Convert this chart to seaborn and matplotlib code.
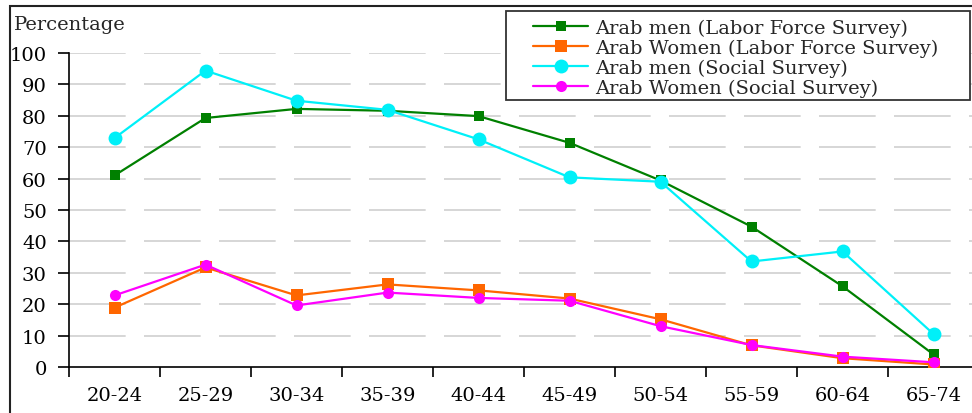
import matplotlib
matplotlib.use("Agg")
import matplotlib.pyplot as plt
import seaborn as sns
import pandas as pd
from matplotlib.patches import Rectangle
from matplotlib.ticker import FixedLocator

age_groups = ["20-24", "25-29", "30-34", "35-39", "40-44", "45-49", "50-54", "55-59", "60-64", "65-74"]
men_lfs = [61.0, 79.3, 82.2, 81.6, 79.9, 71.4, 59.4, 44.7, 25.7, 4.0]
women_lfs = [18.9, 31.7, 22.8, 26.3, 24.4, 21.8, 15.2, 6.9, 2.8, 0.8]
men_social = [72.9, 94.4, 84.8, 81.9, 72.5, 60.4, 59.0, 33.6, 36.8, 10.5]
women_social = [22.8, 32.6, 19.6, 23.7, 22.0, 21.1, 13.0, 7.0, 3.3, 1.5]
series_names = ["Arab men (Labor Force Survey)", "Arab Women (Labor Force Survey)",
                "Arab men (Social Survey)", "Arab Women (Social Survey)"]
y_ticks = [0, 10, 20, 30, 40, 50, 60, 70, 80, 90, 100]

sns.set_theme(style="white")
plt.rcParams["font.family"] = ["DejaVu Serif"]
FS = 14

frames = []
for name, vals in zip(series_names, [men_lfs, women_lfs, men_social, women_social]):
    frames.append(pd.DataFrame({"age": age_groups, "value": vals, "series": name}))
df = pd.concat(frames, ignore_index=True)
df["pos"] = df["age"].map({a: i for i, a in enumerate(age_groups)})

colors = {series_names[0]: "#008000", series_names[1]: "#FF6600",
          series_names[2]: "#00F0F8", series_names[3]: "#FF00FF"}
markers = {series_names[0]: "s", series_names[1]: "s",
           series_names[2]: "o", series_names[3]: "o"}
msizes = {series_names[0]: 6.5, series_names[1]: 8, series_names[2]: 10, series_names[3]: 8}

fig = plt.figure(figsize=(9.72, 4.14), dpi=100)
ax = fig.add_axes([69/972, 46/414, 910/972, 314/414])

for name in series_names:
    sub = df[df["series"] == name]
    sns.lineplot(data=sub, x="pos", y="value", ax=ax, color=colors[name],
                 marker=markers[name], markersize=msizes[name], linewidth=1.6,
                 markeredgewidth=0, label=name, zorder=3)

ax.set_xlim(-0.5, 9.5)
ax.set_ylim(0, 100)
ax.set_xlabel("")
ax.set_ylabel("")
ax.set_yticks(y_ticks)
ax.set_xticks(range(len(age_groups)))
ax.set_xticklabels(age_groups)
ax.xaxis.set_minor_locator(FixedLocator([i - 0.5 for i in range(len(age_groups) + 1)]))
ax.tick_params(axis="x", which="major", length=0, pad=14, labelsize=FS, colors="black")
ax.tick_params(axis="x", which="minor", length=7, width=1.2, direction="out", color="black", bottom=True)
ax.tick_params(axis="y", which="major", length=8, width=1.2, direction="out", pad=8,
               labelsize=FS, colors="black", left=True)

for y in y_ticks[1:]:
    ax.axhline(y, color="#d0d0d0", linewidth=1.2, dashes=(34, 11), zorder=1)

for s in ["top", "right"]:
    ax.spines[s].set_visible(False)
for s in ["left", "bottom"]:
    ax.spines[s].set_color("black")
    ax.spines[s].set_linewidth(1.2)

leg = ax.legend(loc="upper left", bbox_to_anchor=(533/972, 1 - 20/414),
                bbox_transform=fig.transFigure, fontsize=FS, frameon=False,
                handlelength=2.85, handletextpad=0.32,
                labelspacing=0.08, borderpad=0, borderaxespad=0)

# legend frame (matching the reference's wide horizontal padding)
legend_frame = Rectangle((506/972, 1 - 101/414), 464/972, 89/414, transform=fig.transFigure,
                         fill=True, facecolor="white", edgecolor="#333333", linewidth=1.3,
                         zorder=4)
ax.add_artist(legend_frame)
legend_frame.set_clip_on(False)
leg.set_zorder(5)

fig.text(14/972, 1 - 25/414, "Percentage", fontsize=FS, va="center", ha="left")

border = Rectangle((10/972, -0.1), 1.2, 1.1 - 7/414, transform=fig.transFigure,
                   fill=False, edgecolor="#222222", linewidth=1.5, clip_on=False)
fig.patches.append(border)

fig.savefig("out.png", dpi=100)
